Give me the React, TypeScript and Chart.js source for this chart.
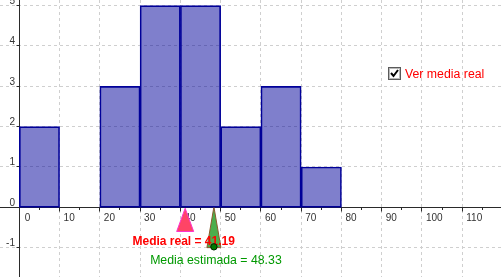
import React, { useEffect, useRef } from "react";
import { Chart, registerables } from "chart.js";

Chart.register(...registerables);

// ---- data ----
const binEdges = [0, 10, 20, 30, 40, 50, 60, 70, 80];
const binCounts = [2, 0, 3, 5, 5, 2, 3, 1];
const realMean = 41.19;
const estimatedMean = 48.33;
const estimatedMarkerY = -0.98;
const xTickValues = [0, 10, 20, 30, 40, 50, 60, 70, 80, 90, 100, 110];
const xMinorTickValues = [5, 15, 25, 35, 45, 55, 65, 75, 85, 95, 105, 115];
const yTickValues = [-1, 0, 1, 2, 3, 4, 5];
const realMeanText = "Media real = " + realMean.toFixed(2);
const estimatedMeanText = "Media estimada = " + estimatedMean.toFixed(2);
const checkboxText = "Ver media real";

const X_MIN = -4.793;
const X_MAX = 119.62;
const Y_MIN = -1.728;
const Y_MAX = 5.14;

const crisp = (v: number) => Math.floor(v) + 0.5;

const geoPlugin = {
  id: "geoDecor",
  beforeDatasetsDraw(chart: any) {
    const { ctx } = chart;
    const xs = chart.scales.x;
    const ys = chart.scales.y;
    const x0 = crisp(xs.getPixelForValue(0));
    const y0 = crisp(ys.getPixelForValue(0));
    const W = chart.width;
    const H = chart.height;
    ctx.save();

    // grid
    ctx.strokeStyle = "#cfcfcf";
    ctx.lineWidth = 1;
    ctx.setLineDash([3, 3]);
    xTickValues.forEach((v) => {
      if (v === 0) return;
      const px = crisp(xs.getPixelForValue(v));
      ctx.beginPath();
      ctx.moveTo(px, 0);
      ctx.lineTo(px, H);
      ctx.stroke();
    });
    yTickValues.forEach((v) => {
      if (v === 0) return;
      const py = crisp(ys.getPixelForValue(v));
      ctx.beginPath();
      ctx.moveTo(0, py);
      ctx.lineTo(W, py);
      ctx.stroke();
    });
    ctx.setLineDash([]);

    // axes
    ctx.strokeStyle = "#2a2a2a";
    ctx.lineWidth = 1;
    ctx.beginPath();
    ctx.moveTo(0, y0);
    ctx.lineTo(W, y0);
    ctx.moveTo(x0, 0);
    ctx.lineTo(x0, H);
    ctx.stroke();

    // ticks
    ctx.beginPath();
    xTickValues.forEach((v) => {
      const px = crisp(xs.getPixelForValue(v));
      ctx.moveTo(px, y0);
      ctx.lineTo(px, y0 + 4);
    });
    xMinorTickValues.forEach((v) => {
      const px = crisp(xs.getPixelForValue(v));
      ctx.moveTo(px, y0);
      ctx.lineTo(px, y0 + 2.5);
    });
    yTickValues.forEach((v) => {
      const py = crisp(ys.getPixelForValue(v));
      ctx.moveTo(x0, py);
      ctx.lineTo(x0 - 3, py);
    });
    ctx.stroke();

    // tick labels
    ctx.fillStyle = "#333333";
    ctx.font = "10px 'Liberation Sans', Arial, sans-serif";
    ctx.textBaseline = "alphabetic";
    ctx.textAlign = "left";
    xTickValues.forEach((v) => {
      const px = xs.getPixelForValue(v);
      ctx.fillText(String(v), px + (v === 0 ? 5.5 : 4), y0 + 13.5);
    });
    ctx.textAlign = "right";
    yTickValues.forEach((v) => {
      const py = ys.getPixelForValue(v);
      ctx.fillText(String(v), x0 - 4.5, py - 1.5);
    });

    // real mean triangle
    const rx = xs.getPixelForValue(realMean);
    const rTop = ys.getPixelForValue(0) + 1;
    const rBase = ys.getPixelForValue(-0.6);
    ctx.beginPath();
    ctx.moveTo(rx, rTop);
    ctx.lineTo(rx + 8.5, rBase);
    ctx.lineTo(rx - 8.5, rBase);
    ctx.closePath();
    ctx.fillStyle = "#ff4466";
    ctx.fill();
    ctx.strokeStyle = "#ff33cc";
    ctx.lineWidth = 1;
    ctx.stroke();

    // estimated mean triangle
    const gx = xs.getPixelForValue(estimatedMean);
    const gTop = ys.getPixelForValue(0) - 0.5;
    const gBase = ys.getPixelForValue(-1.0);
    ctx.beginPath();
    ctx.moveTo(gx, gTop);
    ctx.lineTo(gx + 7, gBase);
    ctx.lineTo(gx - 7, gBase);
    ctx.closePath();
    ctx.fillStyle = "#4cae4c";
    ctx.fill();
    ctx.strokeStyle = "#8b5a2b";
    ctx.stroke();

    // texts
    ctx.textAlign = "center";
    ctx.fillStyle = "#ff0000";
    ctx.font = "bold 12px 'Liberation Sans', Arial, sans-serif";
    ctx.fillText(realMeanText, rx - 1.5, ys.getPixelForValue(-0.93));
    ctx.fillStyle = "#009900";
    ctx.font = "12.3px 'Liberation Sans', Arial, sans-serif";
    ctx.fillText(estimatedMeanText, gx + 2, ys.getPixelForValue(-1.41));

    // checkbox
    const cbx = 388.5;
    const cby = 67.5;
    ctx.fillStyle = "#ffffff";
    ctx.fillRect(cbx, cby, 12, 12);
    ctx.strokeStyle = "#5a5a5a";
    ctx.lineWidth = 1;
    ctx.strokeRect(cbx, cby, 12, 12);
    ctx.strokeStyle = "#b8b8b8";
    ctx.strokeRect(cbx + 1, cby + 1, 10, 10);
    ctx.strokeStyle = "#000000";
    ctx.lineWidth = 2;
    ctx.beginPath();
    ctx.moveTo(cbx + 2.5, cby + 5.5);
    ctx.lineTo(cbx + 5, cby + 8.5);
    ctx.lineTo(cbx + 9.5, cby + 2.5);
    ctx.stroke();
    ctx.fillStyle = "#ff0000";
    ctx.font = "12.3px 'Liberation Sans', Arial, sans-serif";
    ctx.textAlign = "left";
    ctx.fillText(checkboxText, 405, 78);

    ctx.restore();
  },
};

export default function App() {
  const ref = useRef<HTMLCanvasElement | null>(null);
  useEffect(() => {
    if (!ref.current) return;
    const barData = binCounts.map((c, i) => ({
      x: (binEdges[i] + binEdges[i + 1]) / 2,
      y: c,
    }));
    const chart = new Chart(ref.current, {
      type: "bar",
      data: {
        datasets: [
          {
            type: "scatter",
            data: [{ x: estimatedMean, y: estimatedMarkerY }],
            pointRadius: 3.2,
            pointBackgroundColor: "#007a00",
            pointBorderColor: "#002200",
            pointBorderWidth: 1,
          } as any,
          {
            type: "bar",
            data: barData,
            backgroundColor: "rgba(0,0,153,0.5)",
            borderColor: "#000099",
            borderWidth: 1,
            borderSkipped: false,
            barPercentage: 1,
            categoryPercentage: 1,
          } as any,
        ],
      },
      options: {
        animation: false,
        responsive: false,
        maintainAspectRatio: false,
        devicePixelRatio: 1,
        layout: { padding: 0, autoPadding: false },
        plugins: {
          legend: { display: false },
          tooltip: { enabled: false },
          title: { display: false },
        },
        scales: {
          x: {
            type: "linear",
            min: X_MIN,
            max: X_MAX,
            offset: false,
            display: false,
          },
          y: {
            type: "linear",
            min: Y_MIN,
            max: Y_MAX,
            display: false,
          },
        },
      } as any,
      plugins: [geoPlugin],
    });
    return () => chart.destroy();
  }, []);
  return (
    <div style={{ position: "absolute", left: 0, top: 0, width: 501, height: 277, background: "#ffffff" }}>
      <canvas ref={ref} width={501} height={277} style={{ width: 501, height: 277, display: "block" }} />
    </div>
  );
}
